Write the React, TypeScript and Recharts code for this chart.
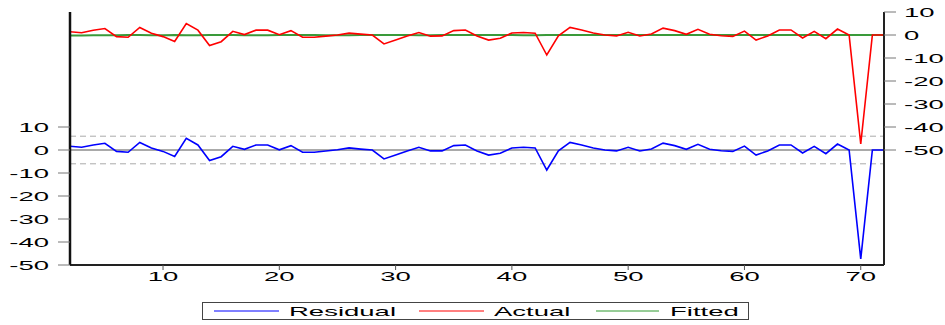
import { LineChart, Line, XAxis, YAxis, ReferenceLine } from "recharts";

// observation index
const obs = [
  2, 3, 4, 5, 6, 7, 8, 9, 10, 11, 12, 13, 14, 15, 16, 17, 18, 19, 20, 21,
  22, 23, 24, 25, 26, 27, 28, 29, 30, 31, 32, 33, 34, 35, 36, 37, 38, 39, 40, 41,
  42, 43, 44, 45, 46, 47, 48, 49, 50, 51, 52, 53, 54, 55, 56, 57, 58, 59, 60, 61,
  62, 63, 64, 65, 66, 67, 68, 69, 70, 71, 72,
];

const residual = [
  1.6, 1.2, 2.2, 2.9, -0.6, -1.0, 3.3, 0.9, -0.6, -2.8, 5.1, 2.2, -4.6, -2.9, 1.6, 0.3, 2.2, 2.2, 0.1, 1.9,
  -1.0, -1.0, -0.4, 0.1, 0.9, 0.4, 0.0, -3.9, -2.2, -0.4, 1.2, -0.4, -0.4, 1.9, 2.2, -0.4, -2.2, -1.4, 0.9, 1.2,
  0.9, -8.7, -0.4, 3.3, 2.2, 0.9, 0.0, -0.4, 1.2, -0.4, 0.4, 3.0, 1.9, 0.3, 2.5, 0.3, -0.3, -0.6, 1.7, -2.2,
  -0.4, 2.2, 2.2, -1.3, 1.6, -1.6, 2.6, 0.0, -47.4, 0.0, 0.0,
];

const actual = [
  1.4, 1.0, 2.1, 2.8, -0.7, -1.0, 3.3, 0.8, -0.7, -2.8, 5.0, 2.1, -4.6, -2.9, 1.6, 0.2, 2.1, 2.1, 0.1, 1.9,
  -1.0, -1.0, -0.5, 0.0, 0.8, 0.4, 0.0, -3.9, -2.2, -0.4, 1.1, -0.5, -0.4, 1.9, 2.2, -0.4, -2.2, -1.4, 0.9, 1.1,
  0.8, -8.7, -0.4, 3.3, 2.2, 0.9, 0.0, -0.4, 1.2, -0.4, 0.4, 3.0, 1.9, 0.3, 2.5, 0.3, -0.3, -0.6, 1.7, -2.2,
  -0.4, 2.2, 2.2, -1.3, 1.6, -1.6, 2.6, 0.0, -47.4, 0.0, 0.0,
];

const fitted = [
  -0.2, -0.2, -0.1, -0.1, -0.1, 0.0, 0.0, -0.1, -0.1, 0.0, -0.1, -0.1, 0.0, 0.0, 0.0, -0.1, -0.1, -0.1, 0.0, 0.0,
  0.0, 0.0, -0.1, -0.1, -0.1, 0.0, 0.0, 0.0, 0.0, 0.0, -0.1, -0.1, 0.0, 0.0, 0.0, 0.0, 0.0, 0.0, 0.0, -0.1,
  -0.1, 0.0, 0.0, 0.0, 0.0, 0.0, 0.0, 0.0, 0.0, 0.0, 0.0, 0.0, 0.0, 0.0, 0.0, 0.0, 0.0, 0.0, 0.0, 0.0,
  0.0, 0.0, 0.0, 0.0, 0.0, 0.0, 0.0, 0.0, 0.0, 0.0, 0.0,
];

const xTicks = [10, 20, 30, 40, 50, 60, 70];
const yTicks = [-50, -40, -30, -20, -10, 0, 10];
const seBand = 6;

const data = obs.map((x, i) => ({
  x,
  residual: residual[i],
  actual: actual[i],
  fitted: fitted[i],
}));

const FONT = '"Liberation Sans", Arial, sans-serif';
const STRETCH = 2.2;
const FS = 12.5;

function WideText({ x, y, anchor, dy, children }: any) {
  return (
    <g transform={`translate(${x},${y}) scale(${STRETCH},1)`}>
      <text x={0} y={0} dy={dy} textAnchor={anchor} fontSize={FS} fontFamily={FONT} fill="#000">
        {children}
      </text>
    </g>
  );
}

const LeftTick = ({ x, y, payload }: any) => (
  <WideText x={x} y={y} anchor="end" dy="0.36em">{payload.value}</WideText>
);
const RightTick = ({ x, y, payload }: any) => (
  <WideText x={x} y={y} anchor="start" dy="0.36em">{payload.value}</WideText>
);
const BottomTick = ({ x, y, payload }: any) => (
  <WideText x={x} y={y} anchor="middle" dy="0.72em">{payload.value}</WideText>
);

function ChartLegend() {
  const items = [
    { name: "Residual", color: "#0000ff", l1: 11, l2: 76, t: 86 },
    { name: "Actual", color: "#ff0000", l1: 216, l2: 281, t: 291 },
    { name: "Fitted", color: "#2e9a2e", l1: 393, l2: 456, t: 467 },
  ];
  return (
    <div
      style={{
        position: "absolute",
        left: 202,
        top: 302,
        width: 547,
        height: 18,
        border: "1.5px solid #444",
        boxSizing: "border-box",
      }}
    >
      <svg width={547} height={18} style={{ position: "absolute", left: 0, top: 0 }}>
        {items.map((it) => (
          <g key={it.name}>
            <line x1={it.l1} x2={it.l2} y1={8} y2={8} stroke={it.color} strokeWidth={1} />
            <WideText x={it.t} y={12.5} anchor="start" dy={0}>{it.name}</WideText>
          </g>
        ))}
      </svg>
    </div>
  );
}

export default function App() {
  return (
    <div style={{ position: "absolute", left: 0, top: 0, width: 945, height: 325, background: "#fff" }}>
      <LineChart width={945} height={325} data={data} margin={{ top: 12, right: 0, left: 0, bottom: 0 }}>
        <XAxis
          dataKey="x"
          type="number"
          domain={[2, 72]}
          ticks={xTicks}
          interval={0}
          height={60}
          tickSize={5}
          tickMargin={2}
          tick={<BottomTick />}
          tickLine={{ stroke: "#555" }}
          axisLine={{ stroke: "#222", strokeWidth: 2 }}
          allowDataOverflow
        />
        <XAxis
          xAxisId="top"
          dataKey="x"
          type="number"
          orientation="top"
          domain={[2, 72]}
          height={0}
          tick={false}
          tickLine={false}
          axisLine={{ stroke: "#111", strokeWidth: 1.5 }}
        />
        <YAxis
          yAxisId="left"
          domain={[-50, 60]}
          ticks={yTicks}
          interval={0}
          width={70}
          tickSize={12}
          tickMargin={9}
          tick={<LeftTick />}
          tickLine={{ stroke: "#777" }}
          axisLine={{ stroke: "#111", strokeWidth: 2.5 }}
          allowDataOverflow
        />
        <YAxis
          yAxisId="right"
          orientation="right"
          domain={[-100, 10]}
          ticks={yTicks}
          interval={0}
          width={61}
          tickSize={12}
          tickMargin={8}
          tick={<RightTick />}
          tickLine={{ stroke: "#777" }}
          axisLine={{ stroke: "#222", strokeWidth: 2 }}
          allowDataOverflow
        />
        <ReferenceLine yAxisId="left" y={seBand} stroke="#aaa" strokeDasharray="6 4" strokeWidth={1} />
        <ReferenceLine yAxisId="left" y={-seBand} stroke="#aaa" strokeDasharray="6 4" strokeWidth={1} />
        <ReferenceLine yAxisId="left" y={0} stroke="#555" strokeWidth={1} />
        <Line
          yAxisId="left"
          dataKey="residual"
          stroke="#0000ff"
          strokeWidth={1.6}
          dot={false}
          isAnimationActive={false}
        />
        <Line
          yAxisId="right"
          dataKey="fitted"
          stroke="#3a9a3a"
          strokeWidth={2}
          dot={false}
          isAnimationActive={false}
        />
        <Line
          yAxisId="right"
          dataKey="actual"
          stroke="#ff0000"
          strokeWidth={1.6}
          dot={false}
          isAnimationActive={false}
        />
      </LineChart>
      <ChartLegend />
    </div>
  );
}
